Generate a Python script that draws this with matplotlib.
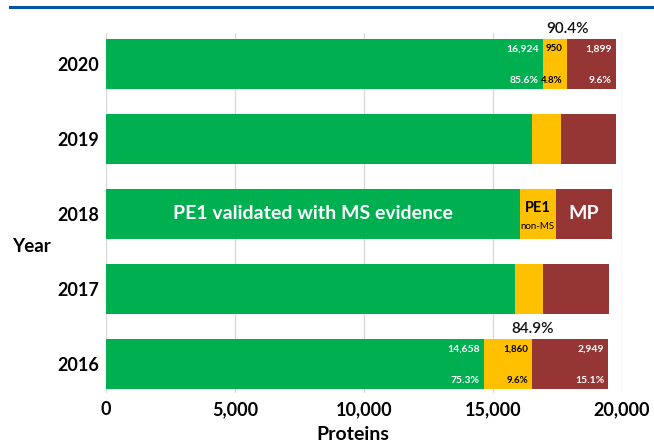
import numpy as np
import matplotlib.pyplot as plt
from matplotlib.lines import Line2D

# protein counts per year (neXtProt categories)
years = ["2016", "2017", "2018", "2019", "2020"]
pe1_ms = [14658, 15860, 16050, 16530, 16924]
pe1_non_ms = [1860, 1090, 1380, 1100, 950]
mp = [2949, 2560, 2170, 2120, 1899]
labelled_years = ["2016", "2020"]
x_ticks = [0, 5000, 10000, 15000, 20000]

green = "#00b050"
yellow = "#ffc000"
red = "#963634"

plt.rcParams["font.family"] = ["Lato", "DejaVu Sans"]

fig = plt.figure(figsize=(6.54, 4.44), dpi=100)
ax = fig.add_axes([106 / 654, 1 - 393 / 444, (622 - 106) / 654, (393 - 33) / 444])

y = np.arange(len(years))
h = 0.655
ms = np.array(pe1_ms)
non_ms = np.array(pe1_non_ms)
miss = np.array(mp)

ax.barh(y, ms, height=h, color=green, zorder=2)
ax.barh(y, non_ms, left=ms, height=h, color=yellow, zorder=2)
ax.barh(y, miss, left=ms + non_ms, height=h, color=red, zorder=2)

ax.set_xlim(0, 20000)
ax.set_ylim(-0.387, 4.413)
ax.set_xticks(x_ticks)
ax.set_xticklabels([f"{t:,}" for t in x_ticks], fontsize=13, fontweight="bold")
ax.set_yticks(y)
ax.set_yticklabels(years, fontsize=13, fontweight="bold")
ax.tick_params(axis="both", length=0)
ax.tick_params(axis="x", pad=6)
ax.tick_params(axis="y", pad=5)
ax.grid(axis="x", color="#d9d9d9", linewidth=1, zorder=0)
for s in ax.spines.values():
    s.set_visible(False)

fig.text(353 / 654, 1 - 434 / 444, "Proteins", fontsize=14, fontweight="bold",
         ha="center", va="center")
fig.text(31 / 654, 1 - 246 / 444, "Year", fontsize=13.5, fontweight="bold",
         ha="center", va="center")

# value + share labels for first and last year
for i, yr in enumerate(years):
    if yr not in labelled_years:
        continue
    total = ms[i] + non_ms[i] + miss[i]
    ends = [ms[i], ms[i] + non_ms[i], total]
    vals = [ms[i], non_ms[i], miss[i]]
    cols = ["white", "black", "white"]
    sizes = [7.5, 7, 7.5]
    for end, v, c, fs in zip(ends, vals, cols, sizes):
        ax.annotate(f"{v:,}", (end, i + 0.2), xytext=(-3, 0),
                    textcoords="offset points", ha="right", va="center",
                    fontsize=fs, fontweight="bold", color=c, zorder=3)
        ax.annotate(f"{v / total * 100:.1f}%", (end, i - 0.22), xytext=(-3, 0),
                    textcoords="offset points", ha="right", va="center",
                    fontsize=fs, fontweight="bold", color=c, zorder=3)
    pe1_share = (ms[i] + non_ms[i]) / total * 100
    ax.text(ms[i] + non_ms[i], i + 0.46, f"{pe1_share:.1f}%", ha="center",
            va="center", fontsize=11, fontweight="semibold", color="#111111")

# category names inside the 2018 bar
k = years.index("2018")
ax.text(ms[k] / 2, k, "PE1 validated with MS evidence", ha="center", va="center",
        fontsize=14, fontweight="bold", color="white", zorder=3)
ax.text(ms[k] + non_ms[k] / 2, k + 0.08, "PE1", ha="center", va="center",
        fontsize=10.5, fontweight="bold", color="black", zorder=3)
ax.text(ms[k] + non_ms[k] / 2, k - 0.17, "non-MS", ha="center", va="center",
        fontsize=7, color="black", zorder=3)
ax.text(ms[k] + non_ms[k] + miss[k] / 2, k, "MP", ha="center", va="center",
        fontsize=14, fontweight="bold", color="white", zorder=3)

# header rule
fig.add_artist(Line2D([10 / 654, 1], [1 - 7 / 444, 1 - 7 / 444],
                      color="#0055a5", linewidth=2.2))

fig.savefig("out.png", dpi=100)
